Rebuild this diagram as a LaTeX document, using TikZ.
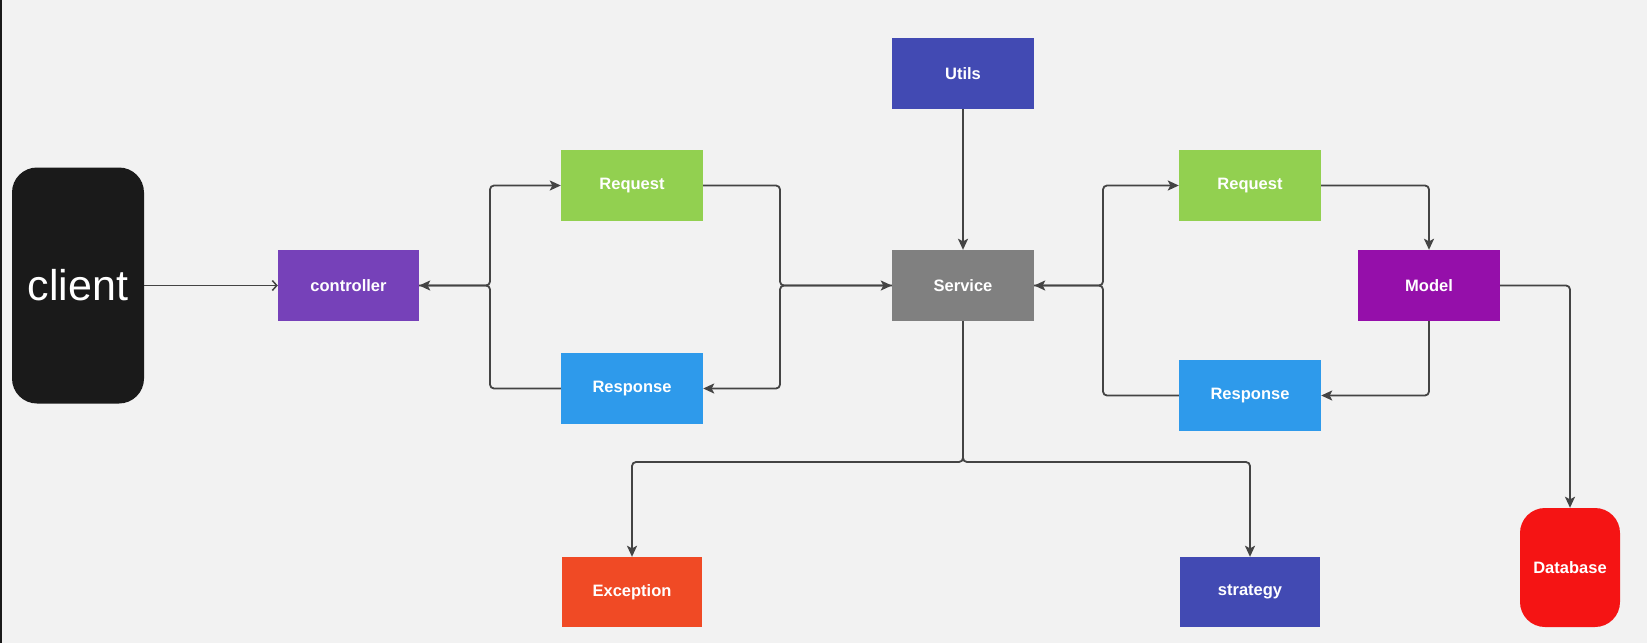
\documentclass[tikz,border=0pt]{standalone}
\usepackage{fontspec}
\setmainfont{Liberation Sans}
\usetikzlibrary{arrows.meta}

\definecolor{canvas}{HTML}{F2F2F2}
\definecolor{wire}{HTML}{444444}
\definecolor{clientc}{HTML}{1A1A1A}
\definecolor{ctrlc}{HTML}{7641B9}
\definecolor{reqc}{HTML}{92D050}
\definecolor{resc}{HTML}{2E9AEB}
\definecolor{svcc}{HTML}{808080}
\definecolor{utilc}{HTML}{424AB3}
\definecolor{modelc}{HTML}{950FAA}
\definecolor{excc}{HTML}{F04A25}
\definecolor{dbc}{HTML}{F51414}

\begin{document}
\begin{tikzpicture}[x=1pt,y=-1pt,
  box/.style={rectangle, inner sep=0pt, minimum width=142pt, minimum height=71pt,
    text=white, font=\bfseries\fontsize{16.5}{18}\selectfont},
  link/.style={draw=wire, line width=1.8pt, rounded corners=4pt,
    -{Stealth[length=11pt,width=10pt,inset=2.5pt]}},
  openlink/.style={draw=wire, line width=1.6pt,
    -{Straight Barb[length=4.5pt,width=10pt,line width=1.5pt]}},
]
% canvas
\fill[canvas] (0,0) rectangle (1647,643);
\fill[clientc] (0,0) rectangle (2,643);
\useasboundingbox (0,0) rectangle (1647,643);

% nodes
\node[rectangle, rounded corners=25pt, fill=clientc, minimum width=132pt, minimum height=236pt,
  inner sep=0pt, text=white, font=\fontsize{43}{48}\selectfont] (client) at (78,285.5) {client};
\node[box, fill=ctrlc, minimum width=141pt] (controller) at (348.5,285.5) {controller};
\node[box, fill=reqc] (reqL) at (632,185.5) {Request};
\node[box, fill=resc] (resL) at (632,388.5) {Response};
\node[box, fill=svcc] (service) at (963,285.5) {Service};
\node[box, fill=utilc] (utils) at (963,73.5) {Utils};
\node[box, fill=reqc] (reqR) at (1250,185.5) {Request};
\node[box, fill=resc] (resR) at (1250,395.5) {Response};
\node[box, fill=modelc] (model) at (1429,285.5) {Model};
\node[box, fill=excc, minimum width=140pt, minimum height=70pt] (exc) at (632,592) {Exception};
\node[box, fill=utilc, minimum width=140pt, minimum height=70pt] (strat) at (1250,592) {strategy};
\node[rectangle, rounded corners=25pt, fill=dbc, minimum width=100pt, minimum height=119pt,
  inner sep=0pt, text=white, font=\bfseries\fontsize{16.5}{18}\selectfont] (db) at (1570,567.5) {Database};

% junction points
\coordinate (jL) at (490,285.5);
\coordinate (jM) at (780,285.5);
\coordinate (jR) at (1103,285.5);
\coordinate (jB) at (963,462);

% connectors
\draw[openlink] (client.east) -- (controller.west);
\draw[link] (controller.east) -- (jL) |- (reqL.west);
\draw[link] (resL.west) -| (jL) -- (controller.east);
\draw[link] (reqL.east) -| (jM) -- (service.west);
\draw[link] (service.west) -- (jM) |- (resL.east);
\draw[link] (utils) -- (service);
\draw[link] (service.east) -- (jR) |- (reqR.west);
\draw[link] (resR.west) -| (jR) -- (service.east);
\draw[link] (reqR.east) -| (model.north);
\draw[link] (model.south) |- (resR.east);
\draw[link] (model.east) -| (db.north);
\draw[link] (service.south) -- (jB) -| (exc.north);
\draw[link] (service.south) -- (jB) -| (strat.north);
\end{tikzpicture}
\end{document}
